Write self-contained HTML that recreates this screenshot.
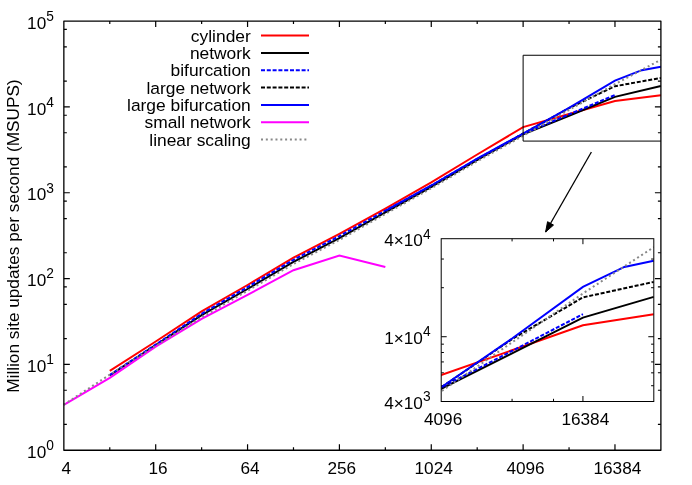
<!DOCTYPE html>
<html><head><meta charset="utf-8"><title>chart</title><style>html,body{margin:0;padding:0;background:#fff}svg{display:block}text{font-family:"Liberation Sans",sans-serif}</style></head><body>
<svg width="692" height="485" viewBox="0 0 692 485" font-size="17.2" fill="#000">
<rect width="692" height="485" fill="#fff"/>
<defs><clipPath id="ci"><rect x="441.2" y="238.7" width="212.6" height="162.8"/></clipPath></defs>
<path d="M109.78,450.25 v-3 M109.78,21.1 v3 M155.70,450.25 v-6 M155.70,21.1 v6 M201.63,450.25 v-3 M201.63,21.1 v3 M247.56,450.25 v-6 M247.56,21.1 v6 M293.48,450.25 v-3 M293.48,21.1 v3 M339.41,450.25 v-6 M339.41,21.1 v6 M385.34,450.25 v-3 M385.34,21.1 v3 M431.27,450.25 v-6 M431.27,21.1 v6 M477.19,450.25 v-3 M477.19,21.1 v3 M523.12,450.25 v-6 M523.12,21.1 v6 M569.05,450.25 v-3 M569.05,21.1 v3 M614.97,450.25 v-6 M614.97,21.1 v6 M63.85,424.41 h3 M660.9,424.41 h-3 M63.85,390.26 h3 M660.9,390.26 h-3 M63.85,372.74 h3 M660.9,372.74 h-3 M63.85,364.42 h6 M660.9,364.42 h-6 M63.85,338.58 h3 M660.9,338.58 h-3 M63.85,304.43 h3 M660.9,304.43 h-3 M63.85,286.91 h3 M660.9,286.91 h-3 M63.85,278.59 h6 M660.9,278.59 h-6 M63.85,252.75 h3 M660.9,252.75 h-3 M63.85,218.60 h3 M660.9,218.60 h-3 M63.85,201.08 h3 M660.9,201.08 h-3 M63.85,192.76 h6 M660.9,192.76 h-6 M63.85,166.92 h3 M660.9,166.92 h-3 M63.85,132.77 h3 M660.9,132.77 h-3 M63.85,115.25 h3 M660.9,115.25 h-3 M63.85,106.93 h6 M660.9,106.93 h-6 M63.85,81.09 h3 M660.9,81.09 h-3 M63.85,46.94 h3 M660.9,46.94 h-3 M63.85,29.42 h3 M660.9,29.42 h-3" stroke="#000" stroke-width="1.2" fill="none"/>
<path d="M109.78,370.90 L155.70,341.50 L201.63,311.40 L247.56,285.00 L293.48,257.70 L339.41,233.80 L385.34,208.60 L431.27,182.40 L477.19,154.50 L523.12,127.15 L569.05,114.04 L614.97,100.94 L660.90,95.14" stroke="#ff0000" stroke-width="2" fill="none" stroke-linejoin="miter" stroke-miterlimit="10"/>
<path d="M109.78,375.40 L155.70,345.20 L201.63,315.20 L247.56,289.00 L293.48,261.90 L339.41,238.20 L385.34,212.40 L431.27,187.00 L477.19,160.00 L523.12,134.36 L569.05,115.73 L614.97,96.88 L660.90,85.93" stroke="#000000" stroke-width="2" fill="none" stroke-linejoin="miter" stroke-miterlimit="10"/>
<path d="M109.78,375.00 L155.70,344.60 L201.63,313.80 L247.56,287.10 L293.48,259.80 L339.41,236.10 L385.34,210.70 L431.27,185.60 L477.19,158.90 L523.12,133.73 L569.05,114.41 L614.97,95.04" stroke="#0000ff" stroke-width="2" fill="none" stroke-linejoin="miter" stroke-miterlimit="10" stroke-dasharray="4 1.8"/>
<path d="M385.34,212.20 L431.27,186.80 L477.19,159.80 L523.12,133.62 L569.05,108.20 L614.97,86.20 L660.90,78.04" stroke="#000000" stroke-width="2" fill="none" stroke-linejoin="miter" stroke-miterlimit="10" stroke-dasharray="4 1.8"/>
<path d="M385.34,210.90 L431.27,185.50 L477.19,158.70 L523.12,133.57 L569.05,107.88 L614.97,80.67 L641.84,70.14 L660.90,66.83" stroke="#0000ff" stroke-width="2" fill="none" stroke-linejoin="miter" stroke-miterlimit="10"/>
<path d="M63.85,404.90 L109.78,377.90 L155.70,346.60 L201.63,318.90 L247.56,294.80 L293.48,270.20 L339.41,255.50 L385.34,267.00" stroke="#ff00ff" stroke-width="2" fill="none" stroke-linejoin="miter" stroke-miterlimit="10"/>
<path d="M63.85,404.60 L109.78,374.70 L155.70,345.80 L201.63,317.30 L247.56,290.80 L293.48,264.00 L339.41,240.00 L385.34,213.90 L431.27,188.30 L477.19,161.30 L523.12,135.78 L569.05,109.94 L614.97,84.14 L660.90,59.72" stroke="#888888" stroke-width="2" fill="none" stroke-linejoin="miter" stroke-miterlimit="10" stroke-dasharray="2 2.82"/>
<rect x="63.85" y="21.1" width="597.05" height="429.15" fill="none" stroke="#000" stroke-width="1.3" stroke-linejoin="round"/>
<path d="M660.9,55.26 H523.12 V141.09 H660.9" fill="none" stroke="#000" stroke-width="1" stroke-linejoin="round"/>
<path d="M591.4,152.0 L545.6,232.0" stroke="#000" stroke-width="1.3" fill="none"/>
<path d="M547.57,221.69 L545.6,232.0 L553.50,225.08 Z" fill="#000" stroke="#000" stroke-width="1" stroke-linejoin="miter"/>
<rect x="441.2" y="238.7" width="212.59999999999997" height="162.8" fill="#fff"/>
<path d="M512.07,401.5 v-2.7 M512.07,238.7 v2.7 M553.52,401.5 v-2.7 M553.52,238.7 v2.7 M582.93,401.5 v-5.5 M582.93,238.7 v5.5 M441.2,385.72 h2.7 M653.8,385.72 h-2.7 M441.2,372.83 h2.7 M653.8,372.83 h-2.7 M441.2,361.93 h2.7 M653.8,361.93 h-2.7 M441.2,352.49 h2.7 M653.8,352.49 h-2.7 M441.2,344.16 h2.7 M653.8,344.16 h-2.7 M441.2,336.72 h5.5 M653.8,336.72 h-5.5 M441.2,287.71 h2.7 M653.8,287.71 h-2.7 M441.2,259.04 h2.7 M653.8,259.04 h-2.7" stroke="#000" stroke-width="1" fill="none"/>
<g clip-path="url(#ci)">
<path d="M370.33,426.94 L441.20,375.07 L512.07,350.21 L582.93,325.34 L653.80,314.36" stroke="#ff0000" stroke-width="2" fill="none" stroke-linejoin="miter" stroke-miterlimit="10"/>
<path d="M370.33,437.38 L441.20,388.74 L512.07,353.40 L582.93,317.66 L653.80,296.89" stroke="#000000" stroke-width="2" fill="none" stroke-linejoin="miter" stroke-miterlimit="10"/>
<path d="M370.33,435.29 L441.20,387.55 L512.07,350.90 L582.93,314.16" stroke="#0000ff" stroke-width="2" fill="none" stroke-linejoin="miter" stroke-miterlimit="10" stroke-dasharray="4 1.8"/>
<path d="M370.33,437.00 L441.20,387.35 L512.07,339.12 L582.93,297.39 L653.80,281.91" stroke="#000000" stroke-width="2" fill="none" stroke-linejoin="miter" stroke-miterlimit="10" stroke-dasharray="4 1.8"/>
<path d="M370.33,434.91 L441.20,387.25 L512.07,338.52 L582.93,286.91 L624.39,266.94 L653.80,260.65" stroke="#0000ff" stroke-width="2" fill="none" stroke-linejoin="miter" stroke-miterlimit="10"/>
<path d="M370.33,439.84 L441.20,391.44 L512.07,342.42 L582.93,293.49 L653.80,247.17" stroke="#888888" stroke-width="2" fill="none" stroke-linejoin="miter" stroke-miterlimit="10" stroke-dasharray="2 2.82"/>
</g>
<rect x="441.2" y="238.7" width="212.59999999999997" height="162.8" fill="none" stroke="#000" stroke-width="1"/>
<g style="filter:grayscale(1)">
<text x="53.9" y="457.85" text-anchor="end">10<tspan font-size="13.76" dy="-7.7">0</tspan></text>
<text x="53.9" y="372.02000000000004" text-anchor="end">10<tspan font-size="13.76" dy="-7.7">1</tspan></text>
<text x="53.9" y="286.19000000000005" text-anchor="end">10<tspan font-size="13.76" dy="-7.7">2</tspan></text>
<text x="53.9" y="200.36000000000004" text-anchor="end">10<tspan font-size="13.76" dy="-7.7">3</tspan></text>
<text x="53.9" y="114.53" text-anchor="end">10<tspan font-size="13.76" dy="-7.7">4</tspan></text>
<text x="53.9" y="28.700000000000024" text-anchor="end">10<tspan font-size="13.76" dy="-7.7">5</tspan></text>
<text x="66.25" y="473.7" text-anchor="middle">4</text>
<text x="158.10" y="473.7" text-anchor="middle">16</text>
<text x="249.96" y="473.7" text-anchor="middle">64</text>
<text x="341.81" y="473.7" text-anchor="middle">256</text>
<text x="433.67" y="473.7" text-anchor="middle">1024</text>
<text x="525.52" y="473.7" text-anchor="middle">4096</text>
<text x="617.37" y="473.7" text-anchor="middle">16384</text>
<text x="430.6" y="246.29999999999998" text-anchor="end">4×10<tspan font-size="13.76" dy="-7.7">4</tspan></text>
<text x="430.6" y="343.7153665881923" text-anchor="end">1×10<tspan font-size="13.76" dy="-7.7">4</tspan></text>
<text x="430.6" y="408.5" text-anchor="end">4×10<tspan font-size="13.76" dy="-7.7">3</tspan></text>
<text x="443.10" y="424.8" text-anchor="middle">4096</text>
<text x="585.33" y="424.8" text-anchor="middle">16384</text>
<text transform="translate(19.2,236.1) rotate(-90)" text-anchor="middle">Million site updates per second (MSUPS)</text>
<text x="250.8" y="41.70" font-size="17.4" text-anchor="end">cylinder</text>
<text x="250.8" y="59.02" font-size="17.4" text-anchor="end">network</text>
<text x="250.8" y="76.34" font-size="17.4" text-anchor="end">bifurcation</text>
<text x="250.8" y="93.66" font-size="17.4" text-anchor="end">large network</text>
<text x="250.8" y="110.98" font-size="17.4" text-anchor="end">large bifurcation</text>
<text x="250.8" y="128.30" font-size="17.4" text-anchor="end">small network</text>
<text x="250.8" y="145.62" font-size="17.4" text-anchor="end">linear scaling</text>
</g>
<path d="M261,35.60 H309" stroke="#ff0000" stroke-width="2" fill="none"/>
<path d="M261,52.92 H309" stroke="#000000" stroke-width="2" fill="none"/>
<path d="M261,70.24 H309" stroke="#0000ff" stroke-width="2" fill="none" stroke-dasharray="4 1.8"/>
<path d="M261,87.56 H309" stroke="#000000" stroke-width="2" fill="none" stroke-dasharray="4 1.8"/>
<path d="M261,104.88 H309" stroke="#0000ff" stroke-width="2" fill="none"/>
<path d="M261,122.20 H309" stroke="#ff00ff" stroke-width="2" fill="none"/>
<path d="M261,139.52 H309" stroke="#888888" stroke-width="2" fill="none" stroke-dasharray="2 2.82"/>
</svg>
</body></html>
